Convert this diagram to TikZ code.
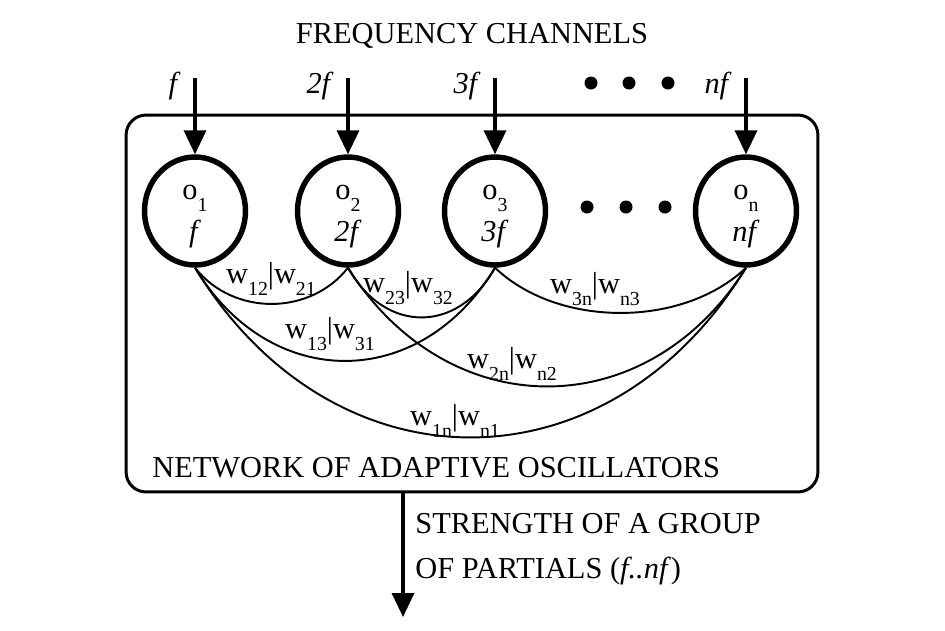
\documentclass[tikz,border=0pt]{standalone}
\usepackage{fontspec}
\setmainfont{Liberation Serif}
\usetikzlibrary{shapes.geometric,arrows.meta}

% lowered index, as in the weights w12|w21
\newcommand{\lowsub}[1]{\raisebox{-0.24cm}{\fontsize{11.3}{13}\selectfont #1}}

\begin{document}
\begin{tikzpicture}[x=0.02cm, y=-0.02cm, >={Triangle[width=0.44cm,length=0.48cm]},
  txt/.style={font=\fontsize{17.3}{20}\selectfont, inner sep=0pt},
  osc/.style={ellipse, draw, line width=3.1pt, minimum width=2.02cm, minimum height=2.16cm,
    inner sep=0pt, align=center, font=\fontsize{17.3}{23.8}\selectfont,
    text height=1.22cm, text depth=0cm},
  link/.style={line width=1.1pt},
  feed/.style={->, line width=2pt}]
  \useasboundingbox (0,0) rectangle (945,630);

  % Title
  \node[txt, anchor=base] (title) at (472,43) {FREQUENCY CHANNELS};

  % Outer box
  \node[draw, line width=1.7pt, rounded corners=0.4cm, minimum width=13.84cm,
    minimum height=7.54cm] (net) at (472,303.5) {};
  \node[txt, anchor=base west] (netlab) at (152,477) {NETWORK OF ADAPTIVE OSCILLATORS};

  % Oscillators and input channels
  \foreach \k/\x/\fr in {1/195/f, 2/348/2f, 3/495/3f, n/746/nf} {
    \node[osc] (o\k) at (\x,211) {o\lowsub{\k}\\\textit{\fr}};
    \coordinate (in\k) at (\x,78);
    \node[txt, anchor=base east] (ch\k) at (\x-14,93) {\textit{\fr}};
    \draw[feed] (in\k) -- (o\k);
  }

  % Dots
  \foreach \x in {591,629,668} \fill (\x,83) circle (0.13cm);
  \foreach \x in {587,626,665} \fill (\x,207) circle (0.13cm);

  % Couplings
  \draw[link] (o1.south) .. controls (233,316) and (310,316) .. (o2.south);
  \draw[link] (o2.south) .. controls (385,334) and (458,334) .. (o3.south);
  \draw[link] (o3.south) .. controls (558,328) and (683,328) .. (on.south);
  \draw[link] (o1.south) .. controls (270,392) and (420,392) .. (o3.south);
  \draw[link] (o2.south) .. controls (448,426) and (647,426) .. (on.south);
  \draw[link] (o1.south) .. controls (333,494) and (608,494) .. (on.south);

  % Weights
  \node[txt, anchor=base] (w12) at (271,283) {w\lowsub{12}|w\lowsub{21}};
  \node[txt, anchor=base] (w23) at (408,292) {w\lowsub{23}|w\lowsub{32}};
  \node[txt, anchor=base] (w3n) at (595,293) {w\lowsub{3n}|w\lowsub{n3}};
  \node[txt, anchor=base] (w13) at (330,338) {w\lowsub{13}|w\lowsub{31}};
  \node[txt, anchor=base] (w2n) at (512,368) {w\lowsub{2n}|w\lowsub{n2}};
  \node[txt, anchor=base] (w1n) at (455,425) {w\lowsub{1n}|w\lowsub{n1}};

  % Output
  \coordinate (out) at (403,617);
  \draw[feed] (net.south -| out) -- (out);
  \node[txt, anchor=north west, align=left, font=\fontsize{17.3}{25.5}\selectfont]
    (strength) at (415,513) {STRENGTH OF A GROUP\\OF PARTIALS (\textit{f..nf})};
\end{tikzpicture}
\end{document}
